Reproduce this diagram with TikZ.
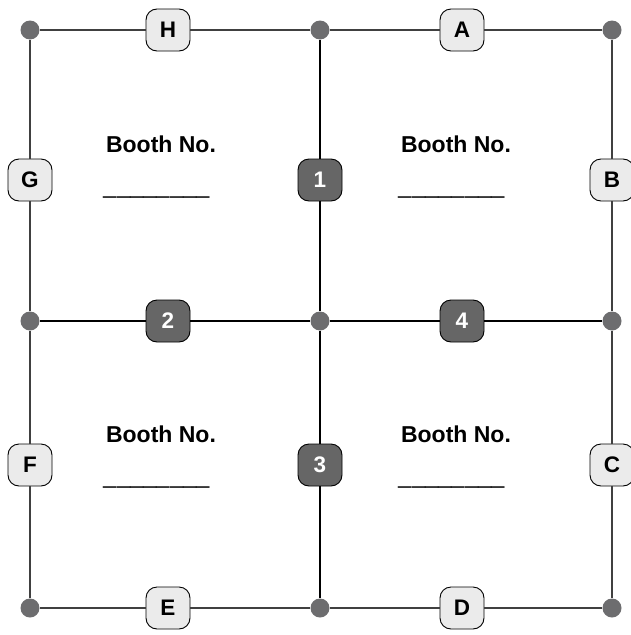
\documentclass[tikz,border=0pt]{standalone}
\usepackage{fontspec}
\setmainfont{Liberation Sans}
\definecolor{dotgray}{HTML}{6D6D6F}
\definecolor{boxlight}{HTML}{EBEBEB}
\definecolor{boxdark}{HTML}{666666}
\newcommand{\blank}{\scalebox{1.04}[1.7]{\_\_\_\_\_\_\_\_}}
\begin{document}
\begin{tikzpicture}[x=1pt,y=-1pt]
\tikzstyle{corner}=[circle,fill=dotgray,minimum size=19pt,inner sep=0pt]
\tikzstyle{side}=[rectangle,rounded corners=11pt,draw=black,line width=0.9pt,fill=boxlight,minimum width=44pt,minimum height=42pt,inner sep=0pt,font=\fontsize{22.5}{22.5}\selectfont\bfseries]
\tikzstyle{mid}=[side,fill=boxdark,text=white]
\tikzstyle{booth}=[anchor=base,inner sep=0pt,font=\fontsize{23}{23}\selectfont\bfseries]
\tikzstyle{outer}=[draw=black!75,line width=1.3pt]
\tikzstyle{inner}=[draw=black,line width=2.6pt]
\useasboundingbox (0,0) rectangle (630,635);
% grid points
\node[corner] (tl) at (30,30) {};
\node[corner] (tm) at (320,30) {};
\node[corner] (tr) at (612,30) {};
\node[corner] (ml) at (30,321) {};
\node[corner] (mm) at (320,321) {};
\node[corner] (mr) at (612,321) {};
\node[corner] (bl) at (30,608) {};
\node[corner] (bm) at (320,608) {};
\node[corner] (br) at (612,608) {};
% letters on the border
\node[side] (h) at (168,30) {H};
\node[side] (a) at (462,30) {A};
\node[side] (g) at (30,180) {G};
\node[side] (b) at (612,180) {B};
\node[side] (f) at (30,465) {F};
\node[side] (c) at (612,465) {C};
\node[side] (e) at (168,608) {E};
\node[side] (d) at (462,608) {D};
% numbers inside
\node[mid] (n1) at (320,180) {1};
\node[mid] (n2) at (168,321) {2};
\node[mid] (n3) at (320,465) {3};
\node[mid] (n4) at (462,321) {4};
% booths
\node[booth] (b1) at (161,152) {Booth No.};
\node[booth] (u1) at (157,193) {\blank};
\node[booth] (b2) at (456,152) {Booth No.};
\node[booth] (u2) at (452,193) {\blank};
\node[booth] (b3) at (161,442) {Booth No.};
\node[booth] (u3) at (157,483) {\blank};
\node[booth] (b4) at (456,442) {Booth No.};
\node[booth] (u4) at (452,483) {\blank};
% lines
\draw[outer] (tl) -- (h) -- (tm) -- (a) -- (tr) -- (b) -- (mr) -- (c) -- (br);
\draw[outer] (br) -- (d) -- (bm) -- (e) -- (bl) -- (f) -- (ml) -- (g) -- (tl);
\draw[inner] (tm) -- (n1) -- (mm) -- (n3) -- (bm);
\draw[inner] (ml) -- (n2) -- (mm) -- (n4) -- (mr);
\end{tikzpicture}
\end{document}
